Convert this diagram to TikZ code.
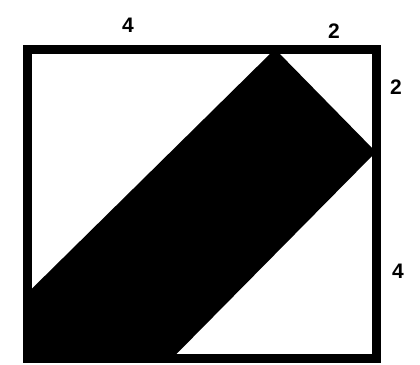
\documentclass[tikz,border=0pt]{standalone}
\usepackage{fontspec}
\setmainfont{Liberation Sans}
\begin{document}
\begin{tikzpicture}[x=1pt,y=-1pt,
  lbl/.style={font=\bfseries\fontsize{21}{21}\selectfont, inner sep=0pt}]
\useasboundingbox (0,0) rectangle (420,364);
% black band
\fill[black] (275,49) -- (376,152) -- (172,358.5) -- (27.5,358.5) -- (27.5,293) -- cycle;
% frame
\draw[line width=9pt, line join=miter] (27.5,49) rectangle (376,358.5);
% labels
\node[lbl] (a) at (128,25) {4};
\node[lbl] (b) at (334,31) {2};
\node[lbl] (c) at (396,87) {2};
\node[lbl] (d) at (398,271) {4};
\end{tikzpicture}
\end{document}
